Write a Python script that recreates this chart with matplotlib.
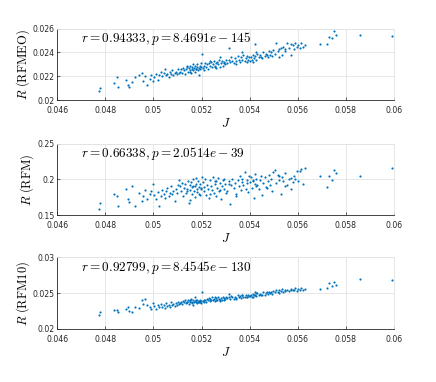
import matplotlib
matplotlib.use("Agg")
from matplotlib import pyplot as plt
from matplotlib.ticker import FuncFormatter

# J values (shared by all three panels)
J = [
    # 0.0477 - 0.0500
    0.04772, 0.04780, 0.04835, 0.04848, 0.04852, 0.04888, 0.04893, 0.04900, 0.04912, 0.04925,
    0.04940, 0.04952, 0.04958, 0.04965, 0.04975, 0.04985, 0.04992, 0.04998,
    # 0.0500 - 0.0510
    0.05002, 0.05010, 0.05018, 0.05025, 0.05030, 0.05035, 0.05042, 0.05048, 0.05052, 0.05058,
    0.05063, 0.05068, 0.05072, 0.05078, 0.05083, 0.05088, 0.05093, 0.05098, 0.05102, 0.05105,
    # 0.0510 - 0.0520
    0.05110, 0.05115, 0.05120, 0.05124, 0.05128, 0.05132, 0.05136, 0.05140, 0.05143, 0.05147,
    0.05150, 0.05153, 0.05156, 0.05159, 0.05162, 0.05165, 0.05168, 0.05171, 0.05174, 0.05177,
    0.05180, 0.05183, 0.05186, 0.05189, 0.05192, 0.05195, 0.05198, 0.05200,
    0.05138, 0.05152, 0.05166, 0.05178, 0.05188, 0.05196,
    # 0.0520 - 0.0530
    0.05205, 0.05210, 0.05214, 0.05218, 0.05222, 0.05226, 0.05230, 0.05234, 0.05238, 0.05242,
    0.05246, 0.05250, 0.05254, 0.05258, 0.05262, 0.05266, 0.05270, 0.05274, 0.05278, 0.05282,
    0.05286, 0.05290, 0.05294, 0.05298, 0.05302,
    0.05212, 0.05236, 0.05256, 0.05276, 0.05292,
    # 0.0530 - 0.0540
    0.05306, 0.05312, 0.05318, 0.05322, 0.05328, 0.05334, 0.05338, 0.05344, 0.05350, 0.05354,
    0.05360, 0.05364, 0.05370, 0.05374, 0.05380, 0.05384, 0.05390, 0.05394, 0.05398,
    0.05316, 0.05342, 0.05366, 0.05388,
    # 0.0540 - 0.0550
    0.05402, 0.05406, 0.05410, 0.05414, 0.05418, 0.05420, 0.05424, 0.05428, 0.05432, 0.05438,
    0.05444, 0.05450, 0.05456, 0.05462, 0.05468, 0.05474, 0.05480, 0.05486, 0.05490, 0.05494,
    0.05498,
    0.05412, 0.05426, 0.05446, 0.05470,
    # 0.0550 - 0.0564
    0.05504, 0.05510, 0.05516, 0.05522, 0.05528, 0.05534, 0.05540, 0.05548, 0.05556, 0.05562,
    0.05570, 0.05578, 0.05584, 0.05590, 0.05596, 0.05602, 0.05608, 0.05614, 0.05620, 0.05630,
    0.05522, 0.05546, 0.05572,
    # tail
    0.0569, 0.0572, 0.0573, 0.0574, 0.0575, 0.0576, 0.0586, 0.0599,
]

R_rfmeo = [
    0.0208, 0.0210, 0.0214, 0.0219, 0.0211, 0.0217, 0.0213, 0.0211, 0.0215, 0.0219,
    0.0221, 0.0223, 0.0216, 0.0220, 0.0213, 0.0218, 0.0221, 0.0216,
    0.0219, 0.0222, 0.0217, 0.0221, 0.0224, 0.0220, 0.0223, 0.0226, 0.0221, 0.0222,
    0.0219, 0.0224, 0.0222, 0.0225, 0.0221, 0.0223, 0.0224, 0.0222, 0.0226, 0.0223,
    0.0224, 0.0226, 0.0223, 0.0227, 0.0225, 0.0222, 0.0226, 0.0228, 0.0224, 0.0227,
    0.0225, 0.0229, 0.0223, 0.0226, 0.0228, 0.0225, 0.0227, 0.0224, 0.0229, 0.0226,
    0.0228, 0.0230, 0.0225, 0.0227, 0.0229, 0.0226, 0.0228, 0.0239,
    0.0229, 0.0224, 0.0230, 0.0226, 0.0221, 0.0231,
    0.0227, 0.0229, 0.0231, 0.0228, 0.0230, 0.0226, 0.0231, 0.0229, 0.0232, 0.0228,
    0.0230, 0.0233, 0.0229, 0.0231, 0.0227, 0.0232, 0.0230, 0.0234, 0.0228, 0.0231,
    0.0233, 0.0229, 0.0232, 0.0230, 0.0234,
    0.0225, 0.0233, 0.0228, 0.0236, 0.0231,
    0.0231, 0.0234, 0.0232, 0.0236, 0.0233, 0.0231, 0.0235, 0.0233, 0.0237, 0.0234,
    0.0232, 0.0236, 0.0234, 0.0238, 0.0233, 0.0235, 0.0237, 0.0234, 0.0236,
    0.0244, 0.0230, 0.0240, 0.0232,
    0.0233, 0.0236, 0.0234, 0.0238, 0.0235, 0.0247, 0.0237, 0.0234, 0.0239, 0.0236,
    0.0238, 0.0235, 0.0240, 0.0237, 0.0239, 0.0236, 0.0241, 0.0238, 0.0240, 0.0237,
    0.0242,
    0.0232, 0.0240, 0.0236, 0.0238,
    0.0239, 0.0248, 0.0241, 0.0243, 0.0244, 0.0238, 0.0245, 0.0243, 0.0248, 0.0244,
    0.0247, 0.0246, 0.0243, 0.0248, 0.0245, 0.0246, 0.0244, 0.0248, 0.0245, 0.0246,
    0.0236, 0.0241, 0.0238,
    0.0247, 0.0247, 0.0253, 0.0252, 0.0258, 0.0255, 0.0255, 0.0254,
]

R_rfm = [
    0.158, 0.167, 0.179, 0.176, 0.162, 0.187, 0.172, 0.168, 0.190, 0.163,
    0.181, 0.170, 0.176, 0.185, 0.172, 0.179, 0.183, 0.193,
    0.178, 0.172, 0.182, 0.162, 0.176, 0.185, 0.180, 0.174, 0.183, 0.188,
    0.177, 0.181, 0.190, 0.179, 0.184, 0.170, 0.186, 0.181, 0.192, 0.199,
    0.190, 0.183, 0.195, 0.176, 0.188, 0.193, 0.181, 0.186, 0.198, 0.167,
    0.192, 0.185, 0.196, 0.179, 0.189, 0.200, 0.184, 0.191, 0.175, 0.194,
    0.187, 0.182, 0.197, 0.189, 0.178, 0.193, 0.186, 0.203,
    0.184, 0.171, 0.190, 0.202, 0.180, 0.188,
    0.196, 0.183, 0.201, 0.178, 0.192, 0.187, 0.174, 0.199, 0.190, 0.185,
    0.203, 0.181, 0.194, 0.176, 0.197, 0.188, 0.202, 0.183, 0.195, 0.172,
    0.190, 0.199, 0.186, 0.193, 0.181,
    0.189, 0.179, 0.198, 0.185, 0.200,
    0.184, 0.197, 0.166, 0.192, 0.201, 0.188, 0.195, 0.180, 0.199, 0.190,
    0.204, 0.185, 0.196, 0.192, 0.210, 0.187, 0.199, 0.182, 0.205,
    0.193, 0.176, 0.200, 0.195,
    0.196, 0.203, 0.188, 0.199, 0.174, 0.207, 0.194, 0.201, 0.192, 0.186,
    0.199, 0.178, 0.195, 0.203, 0.189, 0.197, 0.206, 0.192, 0.200, 0.183,
    0.210,
    0.197, 0.191, 0.204, 0.188,
    0.213, 0.195, 0.206, 0.199, 0.180, 0.203, 0.198, 0.209, 0.192, 0.201,
    0.187, 0.196, 0.205, 0.200, 0.211, 0.198, 0.212, 0.215, 0.194, 0.216,
    0.204, 0.190, 0.202,
    0.204, 0.189, 0.205, 0.199, 0.213, 0.209, 0.204, 0.216,
]

R_rfm10 = [
    0.0219, 0.0224, 0.0227, 0.0226, 0.0223, 0.0228, 0.0230, 0.0225, 0.0224, 0.0231,
    0.0229, 0.0240, 0.0235, 0.0242, 0.0233, 0.0231, 0.0228, 0.0236,
    0.0232, 0.0228, 0.0234, 0.0230, 0.0235, 0.0231, 0.0233, 0.0229, 0.0236, 0.0232,
    0.0234, 0.0231, 0.0238, 0.0233, 0.0235, 0.0232, 0.0236, 0.0234, 0.0237, 0.0235,
    0.0236, 0.0238, 0.0235, 0.0239, 0.0237, 0.0240, 0.0236, 0.0238, 0.0241, 0.0235,
    0.0239, 0.0237, 0.0242, 0.0236, 0.0238, 0.0240, 0.0237, 0.0239, 0.0244, 0.0238,
    0.0236, 0.0240, 0.0238, 0.0239, 0.0241, 0.0237, 0.0239, 0.0252,
    0.0237, 0.0240, 0.0233, 0.0241, 0.0238, 0.0236,
    0.0239, 0.0241, 0.0240, 0.0238, 0.0242, 0.0240, 0.0243, 0.0239, 0.0241, 0.0244,
    0.0240, 0.0242, 0.0239, 0.0243, 0.0241, 0.0240, 0.0244, 0.0242, 0.0239, 0.0243,
    0.0241, 0.0245, 0.0240, 0.0242, 0.0244,
    0.0238, 0.0242, 0.0245, 0.0240, 0.0243,
    0.0243, 0.0245, 0.0242, 0.0246, 0.0244, 0.0242, 0.0245, 0.0243, 0.0247, 0.0244,
    0.0246, 0.0243, 0.0247, 0.0245, 0.0244, 0.0248, 0.0245, 0.0247, 0.0246,
    0.0249, 0.0242, 0.0248, 0.0244,
    0.0246, 0.0248, 0.0245, 0.0249, 0.0247, 0.0252, 0.0248, 0.0246, 0.0250, 0.0248,
    0.0249, 0.0247, 0.0251, 0.0248, 0.0250, 0.0249, 0.0252, 0.0250, 0.0251, 0.0249,
    0.0253,
    0.0245, 0.0250, 0.0248, 0.0251,
    0.0252, 0.0254, 0.0251, 0.0255, 0.0253, 0.0256, 0.0252, 0.0254, 0.0255, 0.0253,
    0.0256, 0.0254, 0.0255, 0.0257, 0.0253, 0.0256, 0.0254, 0.0257, 0.0255, 0.0256,
    0.0250, 0.0253, 0.0255,
    0.0256, 0.0257, 0.0264, 0.0260, 0.0265, 0.0262, 0.0270, 0.0268,
]

labels = ["RFMEO", "RFM", "RFM10"]
r_vals = ["0.94333", "0.66338", "0.92799"]
p_vals = ["8.4691e-145", "2.0514e-39", "8.4545e-130"]
ylims = [(0.02, 0.026), (0.15, 0.25), (0.02, 0.03)]
yticks = [[0.02, 0.022, 0.024, 0.026], [0.15, 0.2, 0.25], [0.02, 0.025, 0.03]]
xticks = [0.046, 0.048, 0.05, 0.052, 0.054, 0.056, 0.058, 0.06]

plt.rcParams['mathtext.fontset'] = 'cm'
blue = '#0072BD'
dark = '#262626'
light = '#e3e3e3'

fig = plt.figure(figsize=(4.36, 3.82), dpi=100)
bottoms = [0.738, 0.437, 0.139]
fmt = FuncFormatter(lambda v, pos: f"{v:g}")

for i, R in enumerate([R_rfmeo, R_rfm, R_rfm10]):
    ax = fig.add_axes([0.131, bottoms[i], 0.773, 0.187])
    ax.scatter(J, R, s=2.4, color=blue, linewidths=0, zorder=3)
    ax.set_xlim(0.046, 0.06)
    ax.set_ylim(*ylims[i])
    ax.set_xticks(xticks)
    ax.set_yticks(yticks[i])
    ax.xaxis.set_major_formatter(fmt)
    ax.yaxis.set_major_formatter(fmt)
    ax.grid(True, color=light, linewidth=0.6, zorder=0)
    ax.set_axisbelow(True)
    ax.tick_params(direction='in', length=2.5, width=0.5, labelsize=5.6,
                   colors=dark, top=False, right=False)
    ax.tick_params(axis='x', pad=4.5)
    ax.tick_params(axis='y', pad=2)
    for side in ['left', 'bottom']:
        ax.spines[side].set_color(dark)
        ax.spines[side].set_linewidth(0.6)
    for side in ['top', 'right']:
        ax.spines[side].set_color(light)
        ax.spines[side].set_linewidth(0.6)
    p_txt = p_vals[i].replace("e-", "e - ")
    ax.text(0.07, 0.86, r"$r = %s, p = %s$" % (r_vals[i], p_txt),
            transform=ax.transAxes, fontsize=9.5, va='center', ha='left')
    ax.set_xlabel(r"$J$", fontsize=9, labelpad=1)
    ax.set_ylabel(r"$R\ \mathrm{(%s)}$" % labels[i], fontsize=9, labelpad=0.5)

fig.savefig("out.png", dpi=100)
